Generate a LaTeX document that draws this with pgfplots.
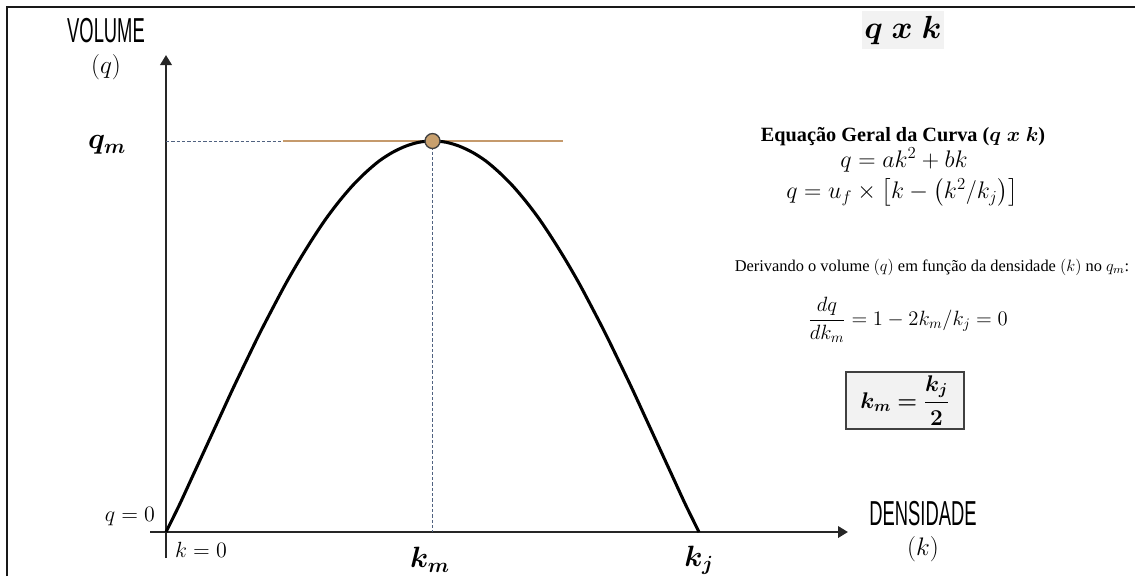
\RequirePackage{fix-cm}
\documentclass[border=0pt]{standalone}
\usepackage{amsmath}
\usepackage{fontspec}
\setmainfont{Liberation Serif}
\newfontfamily\condsans{Liberation Sans}
\usepackage{bm}
\usepackage{graphicx}
\usepackage{pgfplots}
\pgfplotsset{compat=1.18}
\usetikzlibrary{arrows.meta}

\definecolor{tanline}{RGB}{197,154,108}
\definecolor{markfill}{RGB}{200,160,110}
\definecolor{dashblue}{RGB}{80,98,128}
\definecolor{boxgray}{RGB}{242,242,242}

\begin{document}
\begin{tikzpicture}
\useasboundingbox (0,0) rectangle (851.25pt,-432pt);
% outer frame (left and top edges)
\draw[line width=1.7pt, black!90, line join=miter] (5.25pt,-432pt) -- (5.25pt,-5.25pt) -- (851.25pt,-5.25pt);

\begin{axis}[
  at={(112.5pt,-418.5pt)}, anchor=south west,
  scale only axis, width=523.5pt, height=377.25pt,
  xmin=-3, xmax=127.95, ymin=-6.65, ymax=122,
  axis lines=middle, xtick=\empty, ytick=\empty,
  axis line style={line width=2pt, color=black!85, -{Triangle[length=7.5pt,width=8.5pt]}},
  clip=false,
]
% guide lines at the maximum flow
\addplot[dashblue, line width=0.6pt, dash pattern=on 2.5pt off 1.5pt] coordinates {(0,100) (21.95,100)};
\addplot[dashblue, line width=0.6pt, dash pattern=on 2.5pt off 1.5pt] coordinates {(50,100) (50,0)};
% tangent at the peak
\addplot[tanline, line width=1.4pt] coordinates {(21.95,100) (74.5,100)};
% flow-density curve
\addplot[black, line width=2.3pt, smooth] coordinates {
  (0,0) (2.5,6.9) (5,14.3) (7.5,21.7) (10,29.1) (12.5,36.5) (15,43.6) (17.5,50.6) (20,57.2)
  (22.5,63.6) (25,69.5) (27.5,75.0) (30,80.1) (32.5,84.6) (35,88.6) (37.5,92.0) (40,94.9)
  (42.5,97.1) (45,98.7) (47.5,99.7) (50,100)
  (52.5,99.7) (55,98.7) (57.5,97.1) (60,94.9) (62.5,92.0) (65,88.6) (67.5,84.6) (70,80.1)
  (72.5,75.0) (75,69.5) (77.5,63.6) (80,57.2) (82.5,50.6) (85,43.6) (87.5,36.5) (90,29.1)
  (92.5,21.7) (95,14.3) (97.5,6.9) (100,0)
};
% point of maximum flow
\addplot[only marks, mark=*, mark size=5.6pt,
  mark options={fill=markfill, draw=black!75, line width=1pt}] coordinates {(50,100)};
\end{axis}

\begin{scope}[x=0.75pt, y=-0.75pt]
% axis captions
\node at (106,31) {\fontsize{26}{26}\condsans\scalebox{0.53}[1]{VOLUME}};
\node at (106,67) {\fontsize{19}{19}\selectfont $(q)$};
\node at (923,514) {\fontsize{26}{26}\condsans\scalebox{0.53}[1]{DENSIDADE}};
\node at (923,549) {\fontsize{19}{19}\selectfont $(k)$};
% point labels
\node at (107,145) {\fontsize{22}{22}\selectfont $\bm{q_m}$};
\node at (130,517) {\fontsize{16.5}{16.5}\selectfont $q=0$};
\node at (201,550) {\fontsize{16.5}{16.5}\selectfont $k=0$};
\node at (430,560) {\fontsize{22}{22}\selectfont $\bm{k_m}$};
\node at (699,560) {\fontsize{22}{22}\selectfont $\bm{k_j}$};
% title
\node[fill=boxgray, minimum width=62pt, minimum height=29pt, inner sep=0pt] at (903,30)
  {\fontsize{24}{24}\selectfont $\bm{q\;x\;k}$};
% equations
\node[inner sep=0pt, anchor=base] at (903,141) {\fontsize{15.2}{15.2}\selectfont\bfseries Equação Geral da Curva ($\bm{q\;x\;k}$)};
\node[inner sep=0pt, anchor=base] at (904,167) {\fontsize{18}{18}\selectfont $q = ak^2 + bk$};
\node[inner sep=0pt, anchor=base] at (902,198.5) {\fontsize{18}{18}\selectfont $q = u_f \times \bigl[k - \bigl(k^2/k_j\bigr)\bigr]$};
\node at (932,267) {\fontsize{12.3}{14}\selectfont Derivando o volume $(q)$ em função da densidade $(k)$ no $q_m$:};
\node at (908,320) {\fontsize{15.5}{15.5}\selectfont $\dfrac{dq}{dk_m} = 1 - 2k_m/k_j = 0$};
\node[draw=black!75, fill=boxgray, line width=1.1pt, minimum width=88.5pt, minimum height=42.75pt, inner sep=0pt]
  at (905,400.5) {\fontsize{17}{17}\selectfont $\bm{k_m = \dfrac{k_j}{2}}$};
\end{scope}
\end{tikzpicture}
\end{document}
